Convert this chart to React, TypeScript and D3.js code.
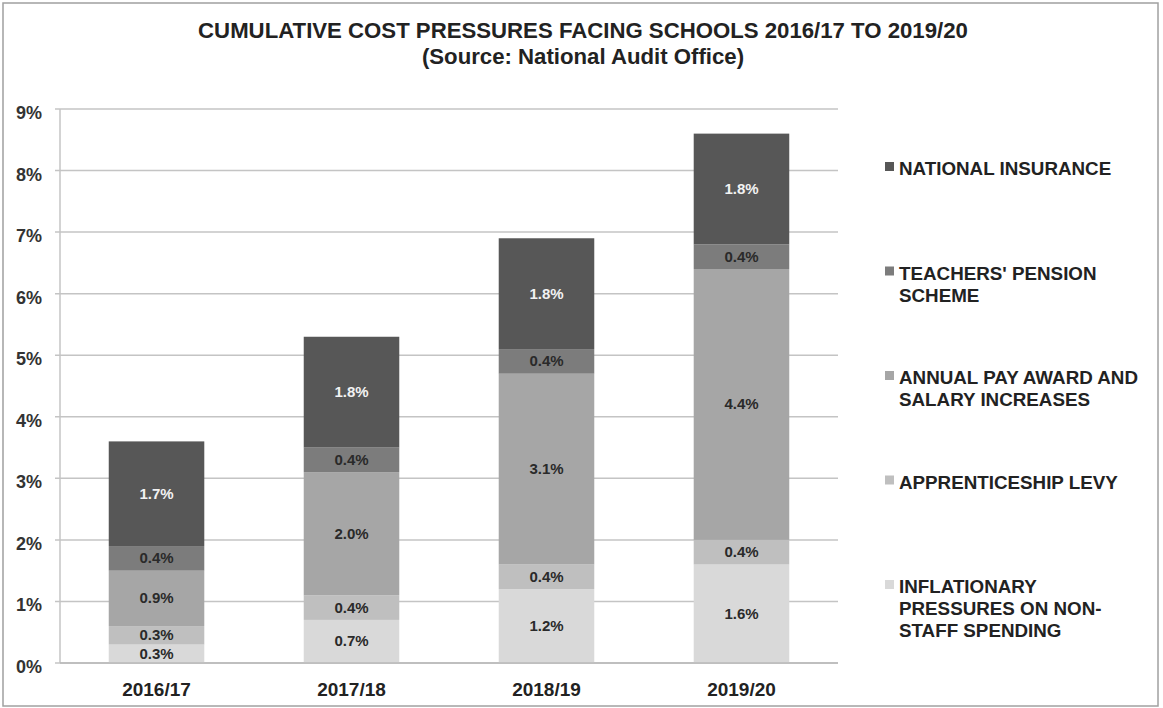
import React from "react";
import * as d3 from "d3";

const categories = ["2016/17", "2017/18", "2018/19", "2019/20"];
const seriesNames = [
  "INFLATIONARY PRESSURES ON NON-STAFF SPENDING",
  "APPRENTICESHIP LEVY",
  "ANNUAL PAY AWARD AND SALARY INCREASES",
  "TEACHERS' PENSION SCHEME",
  "NATIONAL INSURANCE",
];
const inflationary = [0.3, 0.7, 1.2, 1.6];
const apprenticeship = [0.3, 0.4, 0.4, 0.4];
const payAward = [0.9, 2.0, 3.1, 4.4];
const pension = [0.4, 0.4, 0.4, 0.4];
const nationalInsurance = [1.7, 1.8, 1.8, 1.8];
const seriesValues = [inflationary, apprenticeship, payAward, pension, nationalInsurance];
const seriesColors = ["#d9d9d9", "#bfbfbf", "#a6a6a6", "#7c7c7c", "#575757"];
const labelColors = ["#2a2a2a", "#2a2a2a", "#2a2a2a", "#2a2a2a", "#f2f2f2"];
const yTicks = [0, 1, 2, 3, 4, 5, 6, 7, 8, 9];
// legend listed top to bottom, lines as wrapped in the source
const legendOrder = [4, 3, 2, 1, 0];
const legendLines = [
  ["NATIONAL INSURANCE"],
  ["TEACHERS' PENSION", "SCHEME"],
  ["ANNUAL PAY AWARD AND", "SALARY INCREASES"],
  ["APPRENTICESHIP LEVY"],
  ["INFLATIONARY", "PRESSURES ON NON-", "STAFF SPENDING"],
];
const titleLines = ["CUMULATIVE COST PRESSURES FACING SCHOOLS 2016/17 TO 2019/20", "(Source: National Audit Office)"];

export default function App() {
  const W = 1163, H = 708;
  const left = 60, right = 838, top = 109, bottom = 663;
  const x = d3.scaleBand<string>().domain(categories).range([left, right]).paddingInner(0.51).paddingOuter(0.25);
  const y = d3.scaleLinear().domain([0, 9]).range([bottom, top]);
  const rows = categories.map((c, i) => {
    const r: any = { cat: c };
    seriesValues.forEach((s, k) => (r["s" + k] = s[i]));
    return r;
  });
  const stack = d3.stack<any>().keys(seriesValues.map((_, k) => "s" + k))(rows);
  const font = "'Liberation Sans', Arial, Helvetica, sans-serif";
  const legendTop = 175, legendStep = 104.5, lineH = 22;

  return (
    <svg width={W} height={H} style={{ position: "absolute", left: 0, top: 0, background: "#fff" }} fontFamily={font}>
      <rect x={3} y={3} width={1155} height={703} fill="#fff" stroke="#a0a0a0" strokeWidth={1.5} />
      {titleLines.map((t, i) => (
        <text key={t} x={583} y={38 + i * 26} textAnchor="middle" fontWeight="bold" fontSize={22.2} fill="#222">{t}</text>
      ))}
      {yTicks.map((t) => (
        <g key={t}>
          <line x1={left - 5} x2={right} y1={y(t)} y2={y(t)} stroke="#c4c4c4" strokeWidth={1.5} />
          <text x={42} y={y(t) + 10} textAnchor="end" fontWeight="bold" fontSize={18} fill="#333">{t}%</text>
        </g>
      ))}
      <line x1={left} x2={left} y1={top} y2={bottom} stroke="#c4c4c4" strokeWidth={1.5} />
      {stack.map((layer, k) => (
        <g key={k}>
          {layer.map((d: any, i: number) => (
            <rect key={i} x={x(categories[i])} width={x.bandwidth()} y={y(d[1])} height={y(d[0]) - y(d[1])} fill={seriesColors[k]} />
          ))}
        </g>
      ))}
      {stack.map((layer, k) => (
        <g key={"l" + k}>
          {layer.map((d: any, i: number) => (
            <text key={i} x={(x(categories[i]) as number) + x.bandwidth() / 2} y={(y(d[0]) + y(d[1])) / 2 + 5} textAnchor="middle" fontWeight="bold" fontSize={15} fill={labelColors[k]}>
              {seriesValues[k][i].toFixed(1)}%
            </text>
          ))}
        </g>
      ))}
      <line x1={left} x2={right} y1={bottom} y2={bottom} stroke="#b8b8b8" strokeWidth={1.5} />
      {categories.map((c) => (
        <text key={c} x={(x(c) as number) + x.bandwidth() / 2} y={696} textAnchor="middle" fontWeight="bold" fontSize={19} fill="#222">{c}</text>
      ))}
      {legendOrder.map((k, j) => (
        <g key={k}>
          <rect x={885} y={legendTop + j * legendStep - 13} width={9} height={9} fill={seriesColors[k]} />
          {legendLines[j].map((ln, li) => (
            <text key={li} x={899} y={legendTop + j * legendStep + li * lineH} fontWeight="bold" fontSize={18.8} fill="#222">{ln}</text>
          ))}
        </g>
      ))}
    </svg>
  );
}
